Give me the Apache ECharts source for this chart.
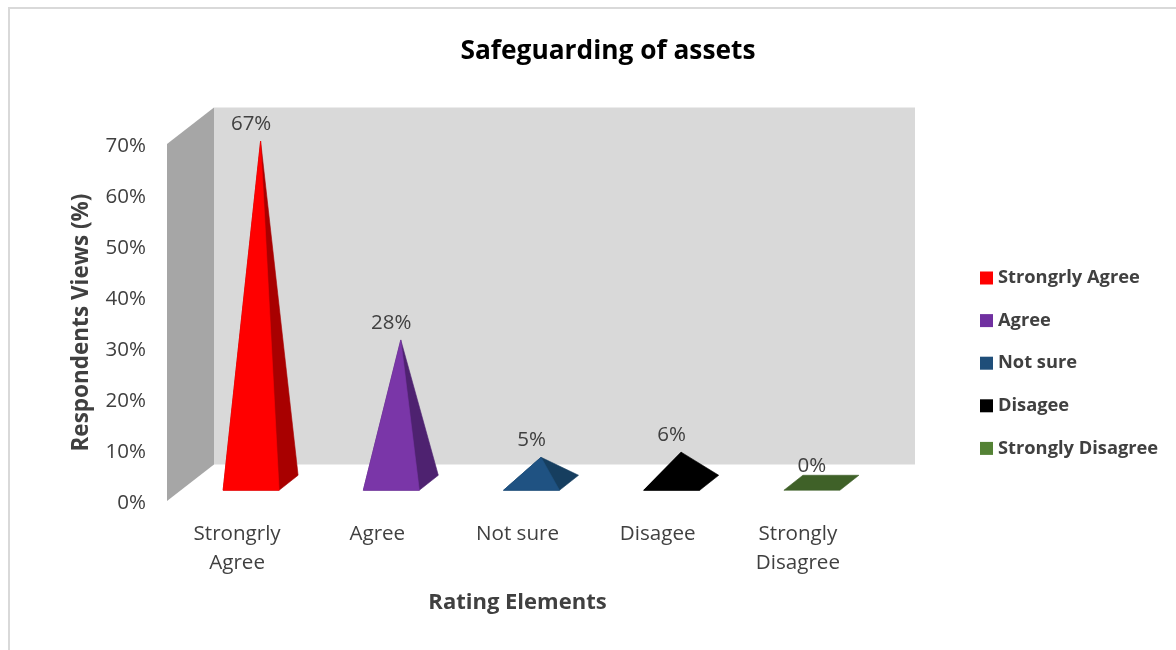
<!DOCTYPE html>
<html>
<head>
<meta charset="utf-8">
<style>html,body{margin:0;padding:0;background:#fff}#chart{width:1176px;height:650px}</style>
<script src="https://cdn.jsdelivr.net/npm/echarts@6/dist/echarts.min.js"></script>
</head>
<body>
<div id="chart"></div>
<script>
// Survey responses, in percent
const categories = ['Strongrly Agree', 'Agree', 'Not sure', 'Disagee', 'Strongly Disagree'];
const axisLabels = ['Strongrly\nAgree', 'Agree', 'Not sure', 'Disagee', 'Strongly\nDisagree'];
const values = [67, 28, 5, 6, 0];
const swatchColors = ['#ff0000', '#7030a0', '#1f4e79', '#000000', '#548235'];
const frontColors = ['#ff0000', '#7a36a8', '#1f5282', '#000000', '#3f6128'];
const sideColors = ['#a80000', '#4e2270', '#163e5f', '#000000', '#3f6128'];

const FONT = '"Open Sans", sans-serif';
const INK = '#404040';

// Oblique projection of the plot box
const DEPTH = [47, -36.5];
const BAR_HALF_WIDTH = 28;
const BAR_DEPTH = [19, -15];

const chart = echarts.init(document.getElementById('chart'));

const shift = (p, d, k = 1) => [p[0] + d[0] * k, p[1] + d[1] * k];

// Back wall and left wall, placed from the axis scales
function renderWalls(params, api) {
  const bottomLeft = api.coord([0, 0]);
  const topLeft = api.coord([0, 70]);
  const left = bottomLeft[0] - api.size([1, 0])[0] / 2;
  const right = left + api.size([1, 0])[0] * categories.length;
  const a = [left, topLeft[1]], b = [left, bottomLeft[1]], c = [right, bottomLeft[1]], d = [right, topLeft[1]];
  const poly = (points, fill) => ({ type: 'polygon', shape: { points }, style: { fill }, silent: true });
  return {
    type: 'group',
    children: [
      poly([shift(a, DEPTH), shift(b, DEPTH), shift(c, DEPTH), shift(d, DEPTH)], '#d9d9d9'),
      poly([a, b, shift(b, DEPTH), shift(a, DEPTH)], '#a6a6a6')
    ]
  };
}

// Square pyramid standing half way into the floor's depth
function pyramidRenderer(index) {
  return function (params, api) {
    const axisPoint = api.coord([api.value(0), 0]);
    const top = api.coord([api.value(0), api.value(1)]);
    const center = shift(axisPoint, DEPTH, 0.5);
    const apex = shift(top, DEPTH, 0.5);
    const fl = [center[0] - BAR_HALF_WIDTH - BAR_DEPTH[0] / 2, center[1] - BAR_DEPTH[1] / 2];
    const fr = [fl[0] + 2 * BAR_HALF_WIDTH, fl[1]];
    const br = shift(fr, BAR_DEPTH);
    const bl = shift(fl, BAR_DEPTH);
    const face = (points, color) => ({
      type: 'polygon',
      shape: { points },
      style: { fill: color, stroke: color, lineWidth: 0.6, lineJoin: 'round' }
    });
    const children = [];
    if (api.value(1) === 0) {
      children.push(face([fl, fr, br, bl], frontColors[index]));
    } else {
      // The silhouette goes first so no seam shows along the ridge
      children.push(face([fl, fr, br, apex], sideColors[index]));
      children.push(face([fl, fr, apex], frontColors[index]));
    }
    children.push({
      type: 'text',
      style: {
        text: api.value(1) + '%',
        x: (fl[0] + fr[0]) / 2,
        y: apex[1] - 17,
        align: 'center',
        verticalAlign: 'middle',
        fill: INK,
        font: '400 20.5px ' + FONT
      }
    });
    return { type: 'group', children };
  };
}

const wallSeries = {
  type: 'custom',
  name: 'walls',
  data: [[0, 0]],
  clip: false,
  silent: true,
  z: 1,
  renderItem: renderWalls
};

const pyramidSeries = categories.map((name, i) => ({
  type: 'custom',
  name,
  data: [[i, values[i]]],
  clip: false,
  z: 2,
  itemStyle: { color: swatchColors[i] },
  renderItem: pyramidRenderer(i)
}));

chart.setOption({
  animation: false,
  backgroundColor: '#ffffff',
  title: {
    text: 'Safeguarding of assets',
    left: 603,
    top: 47,
    textAlign: 'center',
    textVerticalAlign: 'middle',
    textStyle: { fontFamily: FONT, fontSize: 26.3, fontWeight: 700, color: '#000000' }
  },
  legend: {
    data: categories,
    orient: 'vertical',
    left: 975,
    top: 264,
    itemWidth: 13,
    itemHeight: 13,
    itemGap: 24.6,
    icon: 'rect',
    selectedMode: false,
    textStyle: { fontFamily: FONT, fontSize: 18.3, fontWeight: 700, color: INK }
  },
  grid: { left: 167, top: 144, width: 701, height: 357, containLabel: false },
  xAxis: {
    type: 'category',
    data: axisLabels,
    name: 'Rating Elements',
    nameLocation: 'middle',
    nameGap: 91,
    nameTextStyle: { fontFamily: FONT, fontSize: 22, fontWeight: 700, color: INK },
    axisLine: { show: false },
    axisTick: { show: false },
    axisLabel: { fontFamily: FONT, fontSize: 20.6, color: INK, lineHeight: 29, margin: 19, interval: 0 }
  },
  yAxis: {
    type: 'value',
    min: 0,
    max: 70,
    interval: 10,
    name: 'Respondents Views (%)',
    nameLocation: 'middle',
    nameGap: 74,
    nameTextStyle: { fontFamily: FONT, fontSize: 22.5, fontWeight: 700, color: INK },
    axisLine: { show: false },
    axisTick: { show: false },
    splitLine: { show: false },
    axisLabel: {
      margin: 21,
      formatter: '{tick|{value}%}',
      rich: { tick: { fontFamily: FONT, fontSize: 20.5, color: INK, padding: [4, 0, 0, 0] } }
    }
  },
  graphic: [{
    type: 'polyline',
    silent: true,
    shape: { points: [[9, 650], [9, 8], [1176, 8]] },
    style: { stroke: '#d9d9d9', lineWidth: 2, fill: null }
  }],
  series: [wallSeries, ...pyramidSeries]
});
</script>
</body>
</html>
